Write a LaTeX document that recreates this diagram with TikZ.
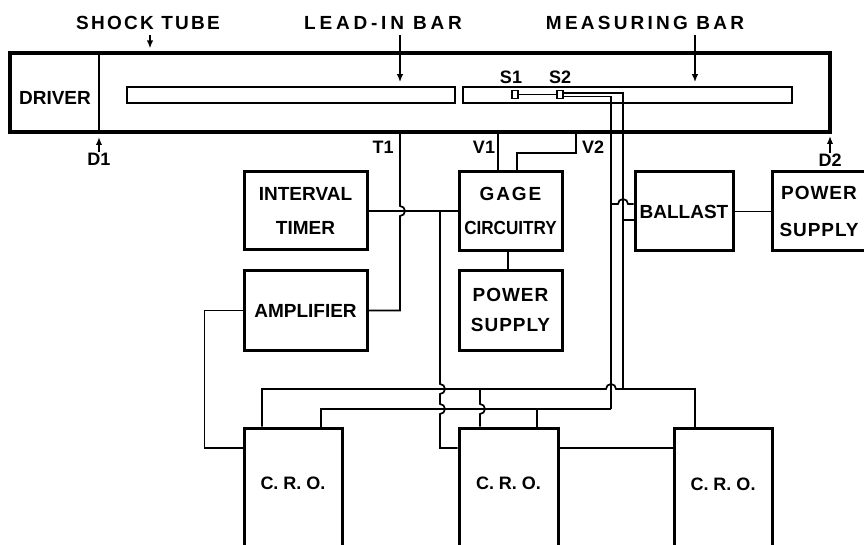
\documentclass[tikz,border=0pt]{standalone}
\usepackage{fontspec}
\setmainfont{Liberation Sans}
\usetikzlibrary{arrows.meta}

\begin{document}
\begin{tikzpicture}[x=1pt,y=1pt,
  every node/.style={inner sep=1pt},
  txt/.style={font=\bfseries\fontsize{19}{34}\selectfont},
  spaced/.style={font=\bfseries\fontsize{19}{34}\selectfont\addfontfeature{LetterSpace=#1}},
  tag/.style={font=\bfseries\fontsize{18}{20}\selectfont},
  box/.style={draw,line width=3pt,inner sep=0pt,align=center,txt},
  bar/.style={draw,line width=1.6pt,inner sep=0pt,minimum height=16pt},
  gauge/.style={draw,line width=1.4pt,inner sep=0pt,minimum width=6pt,minimum height=8pt},
  wire/.style={line width=1.7pt},
  ptr/.style={-{Latex[length=8pt,width=6.5pt]},line width=1.7pt}]

\useasboundingbox (0,0) rectangle (864,-545);
\clip (0,0) rectangle (864,-545);

% shock tube with the two bars
\node[draw,line width=3.2pt,minimum width=820pt,minimum height=79pt] (tube) at (420,-92.5) {};
\coordinate (wall) at (99,-92);
\draw[line width=1.8pt] (wall |- tube.north) -- (wall |- tube.south);
\node[txt] (driver) at (55,-98) {DRIVER};
\node[bar,minimum width=328pt] (leadin) at (291,-95) {};
\node[bar,minimum width=329pt] (measbar) at (627.5,-95) {};
\node[gauge] (s1) at (515,-94.5) {};
\node[gauge] (s2) at (560,-94.5) {};
\node[tag] (s1lbl) at (511,-77) {S1};
\node[tag] (s2lbl) at (560,-77) {S2};

% titles
\node[spaced=12] (shocklbl) at (148,-23) {SHOCK TUBE};
\node[spaced=20] (leadlbl) at (383,-23) {LEAD-IN BAR};
\node[spaced=17] (measlbl) at (645,-23) {MEASURING BAR};
\coordinate (shockptr) at (150,-35);
\coordinate (leadptr) at (400,-35);
\coordinate (measptr) at (695,-35);
\draw[ptr,shorten >=3pt] (shockptr) -- (shockptr |- tube.north);
\draw[ptr,shorten >=4pt] (leadptr) -- (leadptr |- leadin.north);
\draw[ptr,shorten >=4pt] (measptr) -- (measptr |- measbar.north);

% diaphragm stations
\node[tag] (d1lbl) at (99,-159) {D1};
\node[tag] (d2lbl) at (830,-160) {D2};
\coordinate (d1tip) at (99,-137);
\coordinate (d2tip) at (830,-136);
\draw[ptr] (d1lbl) -- (d1tip);
\draw[ptr] (d2lbl) -- (d2tip);

% pick-up labels
\node[tag] (t1lbl) at (383,-147) {T1};
\node[tag] (v1lbl) at (484,-147) {V1};
\node[tag] (v2lbl) at (593,-147) {V2};

% instruments
\node[box,minimum width=123pt,minimum height=78pt] (timer) at (305.5,-211) {INTERVAL\\TIMER};
\node[box,minimum width=123pt,minimum height=80pt] (amp) at (305.5,-310.5) {AMPLIFIER};
\node[box,minimum width=103pt,minimum height=79pt] (gage) at (510.5,-211) {{\addfontfeature{LetterSpace=10}GAGE}\\{\addfontfeature{FakeStretch=0.9}CIRCUITRY}};
\node[box,minimum width=103pt,minimum height=80pt] (gps) at (510.5,-310) {{\addfontfeature{LetterSpace=5}POWER}\\[-4pt]{\addfontfeature{LetterSpace=5}SUPPLY}};
\node[box,minimum width=98pt,minimum height=79pt] (ballast) at (684,-211.5) {BALLAST};
\node[box,minimum width=94pt,minimum height=79pt] (ps) at (819,-211.5) {{\addfontfeature{LetterSpace=5}POWER}\\[3pt]{\addfontfeature{LetterSpace=5}SUPPLY}};

% oscilloscopes
\node[box,minimum width=98pt,minimum height=132pt] (cro1) at (293,-494) {};
\node[box,minimum width=99pt,minimum height=132pt] (cro2) at (508.5,-494) {};
\node[box,minimum width=98pt,minimum height=132pt] (cro3) at (723,-494.5) {};
\node[tag] (cro1lbl) at ([yshift=-57pt]cro1.north) {C. R. O.};
\node[tag] (cro2lbl) at ([yshift=-57pt]cro2.north) {C. R. O.};
\node[tag] (cro3lbl) at ([yshift=-57pt]cro3.north) {C. R. O.};

% gauge leads
\coordinate (j1) at (623,-389);
\coordinate (j3) at (611,-409);
\draw[wire] (s1.east) -- (s2.west);
\draw[wire] ([yshift=1.5pt]s2.east) -| (j1);
\draw[wire] ([yshift=-2pt]s2.east) -| (j3);

% ballast taps
\coordinate (b1) at (611,-204);
\coordinate (b2) at (623,-220);
\draw[wire] (b1) -- (618,-204) arc[start angle=180,end angle=0,radius=5] -- (ballast.west |- b1);
\draw[wire] (b2) -- (ballast.west |- b2);
\draw[wire] (ballast) -- (ps);

% leads to the C.R.O.s
\coordinate (j2) at (480,-389);
\coordinate (j4) at (537,-409);
\coordinate (rowC) at (0,-448);
\draw[wire] ([xshift=-31pt]cro1.north) |- (606,-389) arc[start angle=180,end angle=0,radius=5] -- (j1) -| ([xshift=-28pt]cro3.north);
\draw[wire] (j3) -| ([xshift=28pt]cro1.north);
\draw[wire] (j2) -- (480,-404) arc[start angle=90,end angle=-90,radius=5] -- ([xshift=-28.5pt]cro2.north);
\draw[wire] (j4) -- ([xshift=28.5pt]cro2.north);
\draw[wire] (cro2.east |- rowC) -- (cro3.west |- rowC);

% timer and gage
\coordinate (tg) at (440,-211);
\draw[wire] (timer) -- (gage);
\draw[wire] (tg) -- (440,-384) arc[start angle=90,end angle=-90,radius=5] -- (440,-404) arc[start angle=90,end angle=-90,radius=5] |- (cro2.west |- rowC);

% T1, V1, V2 pick-ups
\coordinate (t1) at (400,-132);
\coordinate (v1) at (498,-132);
\coordinate (v2) at (576,-132);
\draw[wire] (t1) -- (400,-206) arc[start angle=90,end angle=-90,radius=5] |- (amp.east);
\draw[wire] (v1) -- ([xshift=-12.5pt]gage.north);
\draw[wire] (v2) |- (517,-153) -- ([xshift=6.5pt]gage.north);
\draw[wire] ([xshift=-2.5pt]gage.south) -- ([xshift=-2.5pt]gps.north);
\draw[wire] (amp.west) -- ++(-38,0) |- (cro1.west |- rowC);
\end{tikzpicture}
\end{document}
